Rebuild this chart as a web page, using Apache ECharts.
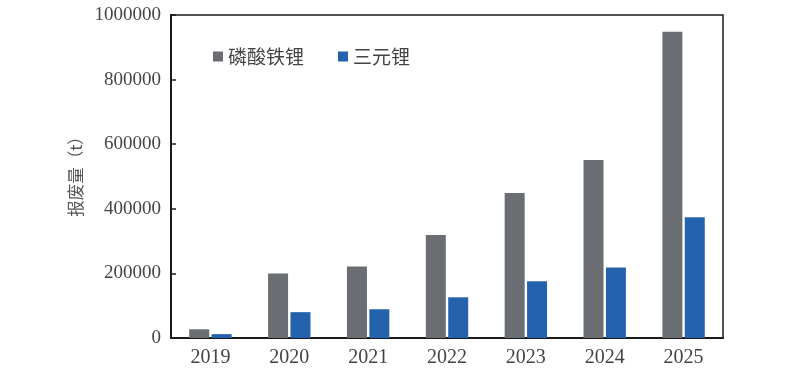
<!DOCTYPE html>
<html>
<head>
<meta charset="utf-8">
<script src="https://cdn.jsdelivr.net/npm/echarts@6/dist/echarts.min.js"></script>
<style>html,body{margin:0;padding:0;background:#fff}#c{width:800px;height:380px}</style>
</head>
<body>
<div id="c"></div>
<script>
const years = ['2019','2020','2021','2022','2023','2024','2025'];
const lfp = [27000, 200000, 221000, 319000, 449000, 551000, 948000];
const ncm = [12000, 80000, 89000, 126000, 176000, 218000, 374000];
const seriesNames = ['磷酸铁锂', '三元锂'];
const yName = '报废量（t）';

const chart = echarts.init(document.getElementById('c'));
const serif = '"Liberation Serif","DejaVu Serif",serif';
chart.setOption({
  animation: false,
  grid: {left: 171, right: 77, top: 15, bottom: 42, show: true, borderColor: '#1a1a1a', borderWidth: 1.5},
  legend: {
    data: seriesNames, left: 208, top: 42, itemWidth: 10, itemHeight: 10, itemGap: 34,
    icon: 'rect',
    textStyle: {fontFamily: '"Noto Sans CJK SC",sans-serif', fontSize: 19, color: '#444'}
  },
  xAxis: {
    type: 'category', data: years,
    axisLine: {lineStyle: {color: '#1a1a1a', width: 2}},
    axisTick: {show: false},
    axisLabel: {fontFamily: serif, fontSize: 20, color: '#444', margin: 10}
  },
  yAxis: {
    type: 'value', min: 0, max: 1000000, interval: 200000,
    name: yName, nameLocation: 'middle', nameGap: 74, nameRotate: 90,
    nameTextStyle: {fontFamily: '"Noto Sans CJK SC",sans-serif', fontSize: 16.5, color: '#555', padding: [0, 0, 0, 8]},
    axisLine: {show: true, lineStyle: {color: '#1a1a1a', width: 2}},
    axisTick: {show: true, inside: true, length: 5, lineStyle: {color: '#1a1a1a', width: 1.5}},
    splitLine: {show: false},
    axisLabel: {fontFamily: serif, fontSize: 19, color: '#444', margin: 10, formatter: v => String(v)}
  },
  series: [
    {name: seriesNames[0], type: 'bar', data: lfp, barWidth: 20, barGap: '12%', itemStyle: {color: '#6a6d71'}},
    {name: seriesNames[1], type: 'bar', data: ncm, barWidth: 20, itemStyle: {color: '#2562ae'}}
  ]
});
</script>
</body>
</html>
